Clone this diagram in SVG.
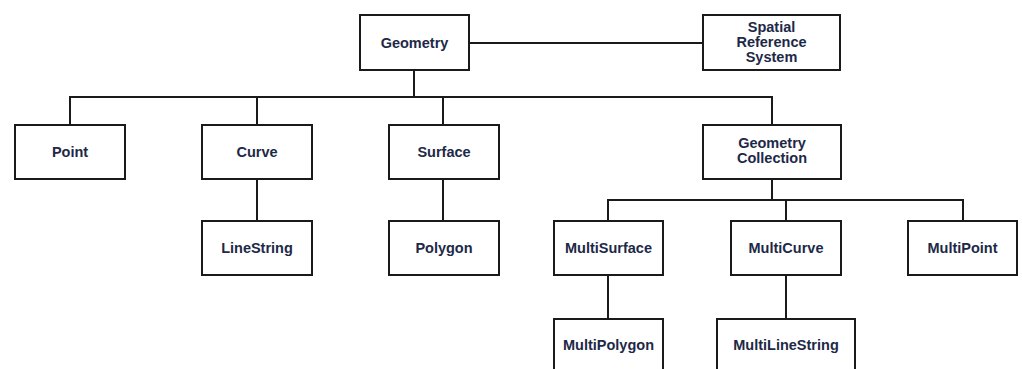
<svg xmlns="http://www.w3.org/2000/svg" width="1022" height="369" viewBox="0 0 1022 369">
<style>
.box{fill:#fff;stroke:#1a1a1a;stroke-width:2}
.lbl{font-family:"Liberation Sans",Arial,sans-serif;font-weight:bold;font-size:14.5px;fill:#1d2947;text-anchor:middle}
.conn{fill:none;stroke:#1a1a1a;stroke-width:2}
</style>
<rect width="1022" height="369" fill="#fff"/>
<g id="connectors" class="conn">
<path d="M469 43H703"/>
<path d="M414 70V97"/>
<path d="M70 125V97H772V125"/>
<path d="M257 97V125"/>
<path d="M443 97V125"/>
<path d="M257 179V221"/>
<path d="M443 179V221"/>
<path d="M772 179V200"/>
<path d="M608 221V200H963V221"/>
<path d="M786 200V221"/>
<path d="M608 275V319"/>
<path d="M786 275V319"/>
</g>
<g id="geometry"><rect class="box" x="360" y="15" width="109" height="55"/><text class="lbl" x="414.5" y="48">Geometry</text></g>
<g id="srs"><rect class="box" x="703" y="15" width="137" height="55"/><text class="lbl" x="771.5" y="32">Spatial</text><text class="lbl" x="771.5" y="47">Reference</text><text class="lbl" x="771.5" y="62">System</text></g>
<g id="point"><rect class="box" x="15" y="125" width="110" height="54"/><text class="lbl" x="70" y="157">Point</text></g>
<g id="curve"><rect class="box" x="202" y="125" width="110" height="54"/><text class="lbl" x="257" y="157">Curve</text></g>
<g id="surface"><rect class="box" x="389" y="125" width="110" height="54"/><text class="lbl" x="444" y="157">Surface</text></g>
<g id="geomcoll"><rect class="box" x="703" y="125" width="138" height="54"/><text class="lbl" x="772" y="148">Geometry</text><text class="lbl" x="772" y="163">Collection</text></g>
<g id="linestring"><rect class="box" x="202" y="221" width="110" height="54"/><text class="lbl" x="257" y="253">LineString</text></g>
<g id="polygon"><rect class="box" x="389" y="221" width="110" height="54"/><text class="lbl" x="444" y="253">Polygon</text></g>
<g id="multisurface"><rect class="box" x="554" y="221" width="109" height="54"/><text class="lbl" x="608.5" y="253">MultiSurface</text></g>
<g id="multicurve"><rect class="box" x="731" y="221" width="110" height="54"/><text class="lbl" x="786" y="253">MultiCurve</text></g>
<g id="multipoint"><rect class="box" x="908" y="221" width="109" height="54"/><text class="lbl" x="962.5" y="253">MultiPoint</text></g>
<g id="multipolygon"><rect class="box" x="554" y="319" width="109" height="56"/><text class="lbl" x="608.5" y="350">MultiPolygon</text></g>
<g id="multilinestring"><rect class="box" x="717" y="319" width="138" height="56"/><text class="lbl" x="786" y="350">MultiLineString</text></g>
</svg>
